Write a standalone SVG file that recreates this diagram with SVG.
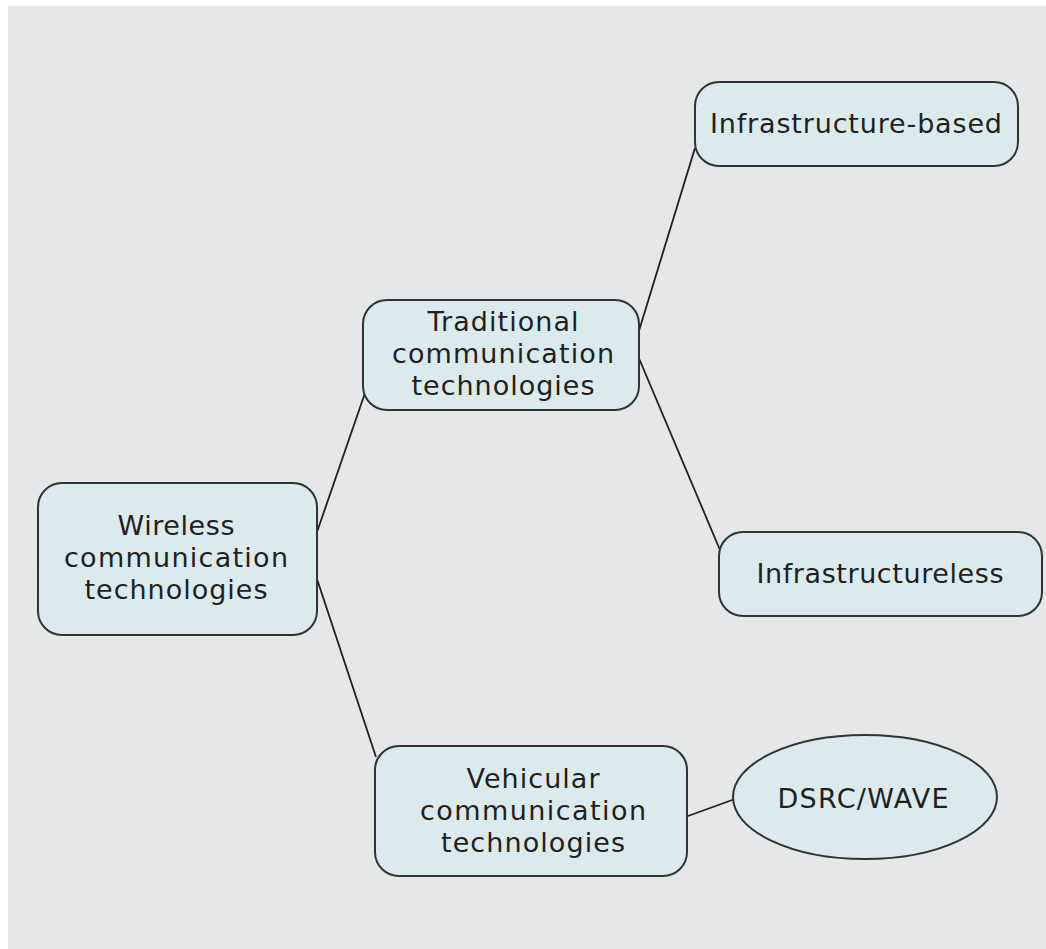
<svg xmlns="http://www.w3.org/2000/svg" width="1046" height="949" viewBox="0 0 1046 949">
<style>
.node{fill:#dbeaed;stroke:#333;stroke-width:2}
.lbl{font-family:"DejaVu Sans","Open Sans",sans-serif;font-size:27px;fill:#231f20;text-anchor:middle}
.edge{stroke:#231f20;stroke-width:1.8;fill:none}
</style>
<rect x="0" y="0" width="1046" height="949" fill="#ffffff"/>
<rect x="8" y="6" width="1038" height="943" fill="#e6e7e8"/>
<g id="connectors">
<line class="edge" x1="317" y1="532" x2="365" y2="393"/>
<line class="edge" x1="317" y1="579" x2="376" y2="757"/>
<line class="edge" x1="638" y1="334" x2="695" y2="148"/>
<line class="edge" x1="638" y1="356" x2="720" y2="550"/>
<line class="edge" x1="688" y1="816" x2="735" y2="799"/>
</g>
<g id="wireless">
<rect class="node" x="38" y="483" width="279" height="152" rx="24"/>
<text class="lbl" x="176" y="535" textLength="117">Wireless</text>
<text class="lbl" x="176" y="567" textLength="224">communication</text>
<text class="lbl" x="176" y="599" textLength="183">technologies</text>
</g>
<g id="traditional">
<rect class="node" x="363" y="300" width="276" height="110" rx="24"/>
<text class="lbl" x="503" y="331" textLength="151">Traditional</text>
<text class="lbl" x="503" y="363" textLength="222">communication</text>
<text class="lbl" x="503" y="395" textLength="183">technologies</text>
</g>
<g id="infra-based">
<rect class="node" x="695" y="82" width="323" height="84" rx="24"/>
<text class="lbl" x="856" y="133" textLength="292">Infrastructure-based</text>
</g>
<g id="infraless">
<rect class="node" x="719" y="532" width="323" height="84" rx="24"/>
<text class="lbl" x="880" y="583" textLength="247">Infrastructureless</text>
</g>
<g id="vehicular">
<rect class="node" x="375" y="746" width="312" height="130" rx="24"/>
<text class="lbl" x="533" y="788" textLength="133">Vehicular</text>
<text class="lbl" x="533" y="820" textLength="226">communication</text>
<text class="lbl" x="533" y="852" textLength="184">technologies</text>
</g>
<g id="dsrc">
<ellipse class="node" cx="865" cy="797" rx="132" ry="62"/>
<text class="lbl" x="863" y="808" textLength="171">DSRC/WAVE</text>
</g>
</svg>
